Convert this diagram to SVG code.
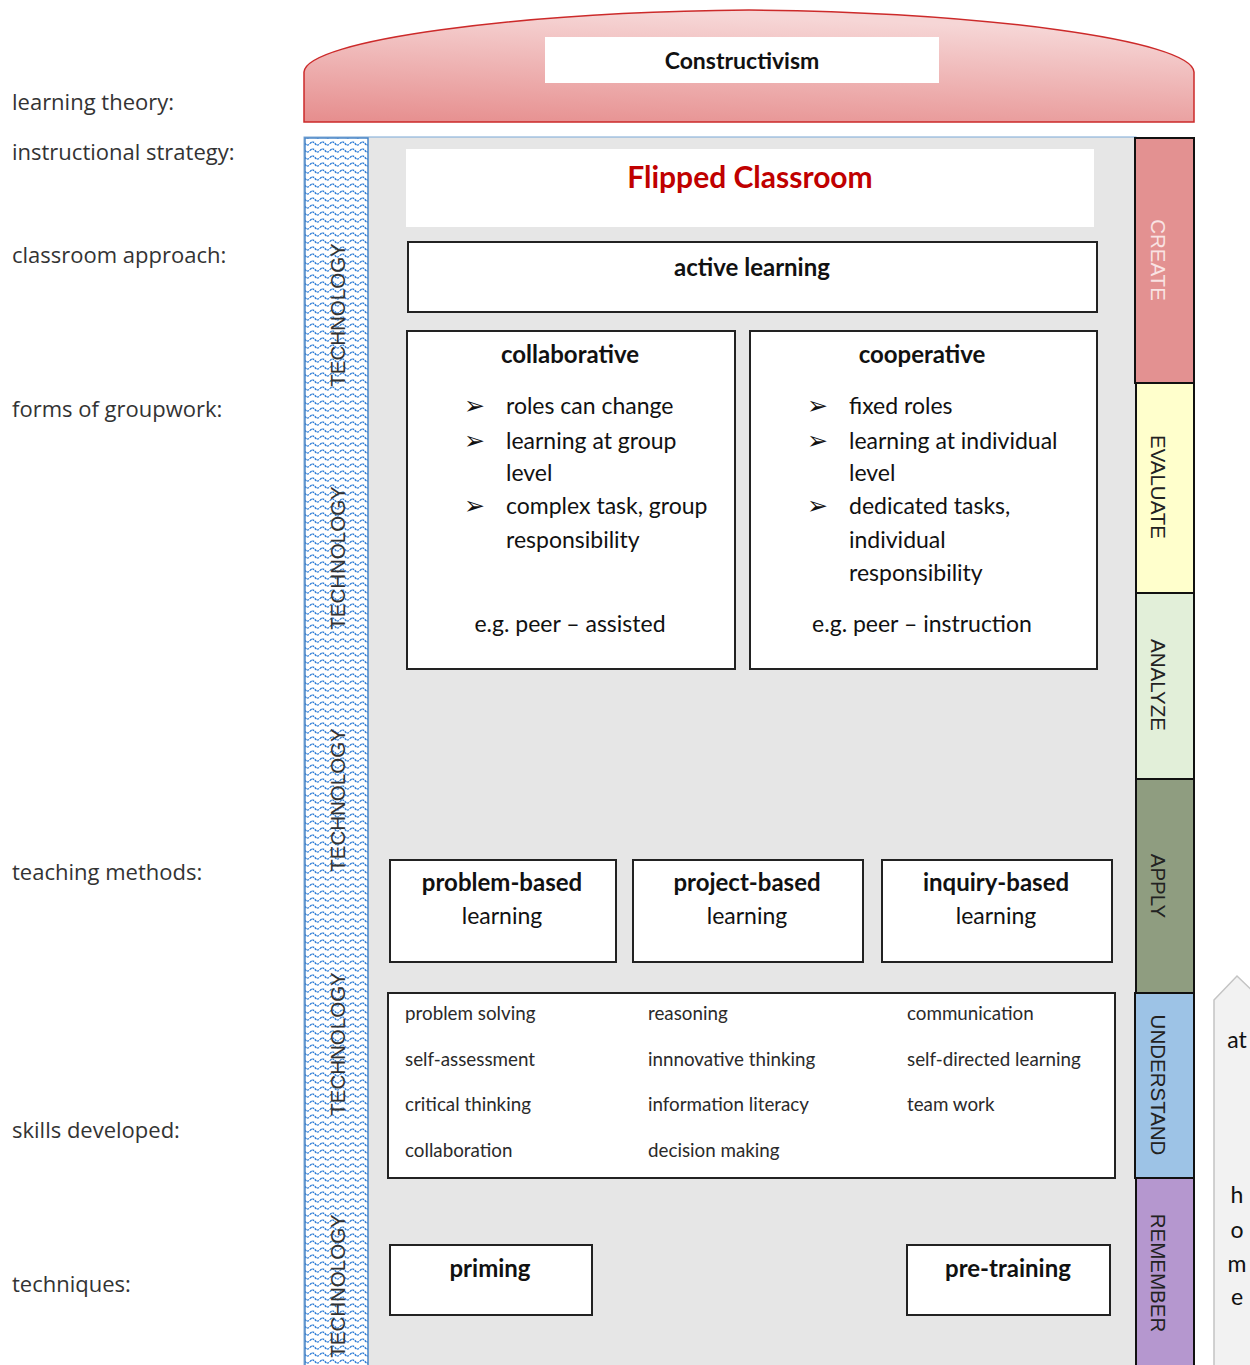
<svg xmlns="http://www.w3.org/2000/svg" width="1250" height="1365" viewBox="0 0 1250 1365">
<defs>
<linearGradient id="archGrad" x1="0" y1="1" x2="0.3" y2="0">
<stop offset="0" stop-color="#e68d8d"/>
<stop offset="1" stop-color="#f6d6d6"/>
</linearGradient>
<pattern id="wave" width="10" height="7" patternUnits="userSpaceOnUse">
<rect width="10" height="7" fill="#ffffff"/>
<path d="M0,3.5 Q2.5,0.5 5,3.5 T10,3.5" fill="none" stroke="#2a7bd6" stroke-width="1.4" stroke-dasharray="2,0.8"/>
</pattern>
<style>
.lbl{font-family:"Open Sans","Liberation Sans",sans-serif;font-size:22px;fill:#333}
.c{font-family:Lato,"Liberation Sans",sans-serif;fill:#111}
.b{font-weight:bold}
.box{fill:#fff;stroke:#222;stroke-width:2}
.mid{text-anchor:middle}
.tech{font-family:"Liberation Sans",Arial,sans-serif;font-size:20.5px;fill:#333;text-anchor:middle}
.bl{font-family:"Liberation Sans",Arial,sans-serif;font-size:20.5px;text-anchor:middle}
.band{stroke:#111;stroke-width:2}
.sk{font-family:Lato,"Liberation Sans",sans-serif;font-size:18.8px;fill:#2a2a2a}
.bu{font-family:"DejaVu Sans",sans-serif;font-size:25px;font-weight:bold;fill:#111}
.it{font-family:Lato,"Liberation Sans",sans-serif;font-size:23px;fill:#111}
</style>
</defs>
<rect width="1250" height="1365" fill="#ffffff"/>

<g id="labels">
<text class="lbl" x="12" y="110">learning theory:</text>
<text class="lbl" x="12" y="160">instructional strategy:</text>
<text class="lbl" x="12" y="263">classroom approach:</text>
<text class="lbl" x="12" y="417">forms of groupwork:</text>
<text class="lbl" x="12" y="880">teaching methods:</text>
<text class="lbl" x="12" y="1138">skills developed:</text>
<text class="lbl" x="12" y="1292">techniques:</text>
</g>

<g id="constructivism">
<path d="M304,122 V72 C306,40 520,12 749,10 C980,12 1192,40 1194,72 V122 Z" fill="url(#archGrad)" stroke="#cc2a2a" stroke-width="1.5"/>
<rect x="545" y="37" width="394" height="46" fill="#ffffff"/>
<text class="c b mid" x="742" y="69" font-size="23">Constructivism</text>
</g>

<g id="panel">
<rect x="304" y="137" width="832" height="1230" fill="#e6e6e6" stroke="#7aa7d6" stroke-width="1"/>
</g>

<g id="technology">
<rect x="305" y="138" width="63" height="1229" fill="url(#wave)" stroke="#4a86c8" stroke-width="1.5"/>
<text class="tech" transform="translate(345,315) rotate(-90)">TECHNOLOGY</text>
<text class="tech" transform="translate(345,558) rotate(-90)">TECHNOLOGY</text>
<text class="tech" transform="translate(345,800) rotate(-90)">TECHNOLOGY</text>
<text class="tech" transform="translate(345,1044) rotate(-90)">TECHNOLOGY</text>
<text class="tech" transform="translate(345,1286) rotate(-90)">TECHNOLOGY</text>
</g>

<g id="flipped">
<rect x="406" y="149" width="688" height="78" fill="#ffffff"/>
<text class="c b mid" x="750" y="188" font-size="30" style="fill:#c00000">Flipped Classroom</text>
</g>

<g id="active">
<rect class="box" x="408" y="242" width="689" height="70"/>
<text class="c b mid" x="752" y="276" font-size="24">active learning</text>
</g>

<g id="collaborative">
<rect class="box" x="407" y="331" width="328" height="338"/>
<text class="c b mid" x="570" y="363" font-size="24">collaborative</text>
<text class="bu" x="464" y="414">➢</text>
<text class="bu" x="464" y="449">➢</text>
<text class="bu" x="464" y="514">➢</text>
<text class="it" x="506" y="414">roles can change</text>
<text class="it" x="506" y="449">learning at group</text>
<text class="it" x="506" y="481">level</text>
<text class="it" x="506" y="514">complex task, group</text>
<text class="it" x="506" y="548">responsibility</text>
<text class="it mid" x="570" y="632">e.g. peer – assisted</text>
</g>

<g id="cooperative">
<rect class="box" x="750" y="331" width="347" height="338"/>
<text class="c b mid" x="922" y="363" font-size="24">cooperative</text>
<text class="bu" x="807" y="414">➢</text>
<text class="bu" x="807" y="449">➢</text>
<text class="bu" x="807" y="514">➢</text>
<text class="it" x="849" y="414">fixed roles</text>
<text class="it" x="849" y="449">learning at individual</text>
<text class="it" x="849" y="481">level</text>
<text class="it" x="849" y="514">dedicated tasks,</text>
<text class="it" x="849" y="548">individual</text>
<text class="it" x="849" y="581">responsibility</text>
<text class="it mid" x="922" y="632">e.g. peer – instruction</text>
</g>

<g id="problem-based">
<rect class="box" x="390" y="860" width="226" height="102"/>
<text class="c b mid" x="502" y="891" font-size="24">problem-based</text>
<text class="it mid" x="502" y="924">learning</text>
</g>
<g id="project-based">
<rect class="box" x="633" y="860" width="230" height="102"/>
<text class="c b mid" x="747" y="891" font-size="24">project-based</text>
<text class="it mid" x="747" y="924">learning</text>
</g>
<g id="inquiry-based">
<rect class="box" x="882" y="860" width="230" height="102"/>
<text class="c b mid" x="996" y="891" font-size="24">inquiry-based</text>
<text class="it mid" x="996" y="924">learning</text>
</g>

<g id="skills">
<rect class="box" x="388" y="993" width="727" height="185"/>
<text class="sk" x="405" y="1020">problem solving</text>
<text class="sk" x="405" y="1066">self-assessment</text>
<text class="sk" x="405" y="1111">critical thinking</text>
<text class="sk" x="405" y="1157">collaboration</text>
<text class="sk" x="648" y="1020">reasoning</text>
<text class="sk" x="648" y="1066">innnovative thinking</text>
<text class="sk" x="648" y="1111">information literacy</text>
<text class="sk" x="648" y="1157">decision making</text>
<text class="sk" x="907" y="1020">communication</text>
<text class="sk" x="907" y="1066">self-directed learning</text>
<text class="sk" x="907" y="1111">team work</text>
</g>

<g id="priming">
<rect class="box" x="390" y="1245" width="202" height="70"/>
<text class="c b mid" x="490" y="1277" font-size="24">priming</text>
</g>
<g id="pre-training">
<rect class="box" x="907" y="1245" width="203" height="70"/>
<text class="c b mid" x="1008" y="1277" font-size="24">pre-training</text>
</g>

<g id="bloom">
<rect class="band" x="1135" y="138" width="59" height="245" fill="#e39191"/>
<rect class="band" x="1136" y="383" width="58" height="210" fill="#ffffcc"/>
<rect class="band" x="1136" y="593" width="58" height="186" fill="#e2efd9"/>
<rect class="band" x="1136" y="779" width="58" height="214" fill="#8f9d80"/>
<rect class="band" x="1135" y="993" width="59" height="185" fill="#9dc3e6"/>
<rect class="band" x="1136" y="1178" width="58" height="190" fill="#b597cf"/>
<text class="bl" transform="translate(1151,260) rotate(90)" fill="#f9e3e3">CREATE</text>
<text class="bl" transform="translate(1151,487) rotate(90)" fill="#222">EVALUATE</text>
<text class="bl" transform="translate(1151,685) rotate(90)" fill="#222">ANALYZE</text>
<text class="bl" transform="translate(1151,886) rotate(90)" fill="#222">APPLY</text>
<text class="bl" transform="translate(1151,1085) rotate(90)" fill="#222">UNDERSTAND</text>
<text class="bl" transform="translate(1151,1273) rotate(90)" fill="#222">REMEMBER</text>
</g>

<g id="at-home">
<polygon points="1214,1000 1237,976 1262,1000 1262,1368 1214,1368" fill="#f2f2f2" stroke="#c4c4c4" stroke-width="1.5"/>
<text class="it mid" x="1237" y="1048" fill="#222">at</text>
<text class="it mid" x="1237" y="1203">h</text>
<text class="it mid" x="1237" y="1238">o</text>
<text class="it mid" x="1237" y="1272">m</text>
<text class="it mid" x="1237" y="1305">e</text>
</g>

<g id="connectors"></g>
</svg>
